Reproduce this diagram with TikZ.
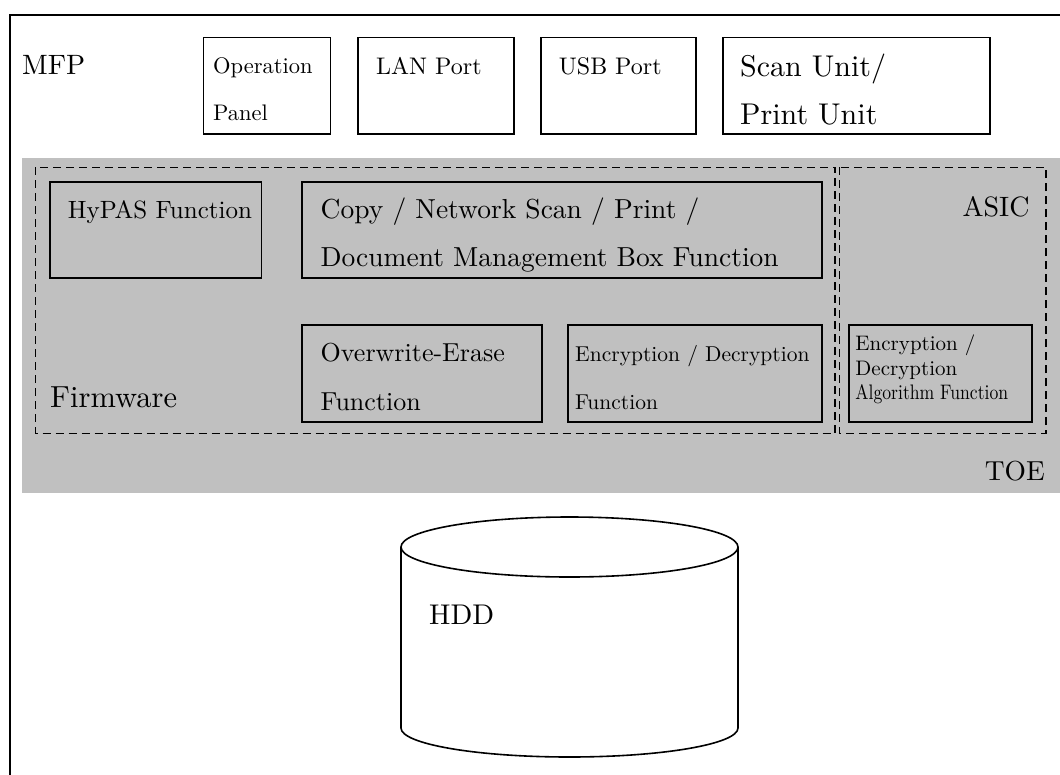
\documentclass[tikz,border=0pt]{standalone}
\usepackage{fontspec}
\setmainfont{lmroman10-regular.otf}
\usepackage{graphicx}
\definecolor{toegray}{RGB}{192,192,192}
\newcommand\fsz[1]{\fontsize{#1}{#1}\selectfont}
\begin{document}
\begin{tikzpicture}[x=1pt,y=-1pt,
  box/.style={draw=black,line width=1.6pt},
  dbox/.style={draw=black,line width=1.5pt,dash pattern=on 8pt off 5pt},
  lbl/.style={inner sep=0pt,anchor=base west},
  lblr/.style={inner sep=0pt,anchor=base east}]
\useasboundingbox (0,0) rectangle (1060,774);
\clip (0,0) rectangle (1060,774);
\fill[white] (0,0) rectangle (1060,774);
% outer MFP frame (cropped at right and bottom)
\draw[line width=2.2pt] (10,800) -- (10,15) -- (1080,15);
\node[lbl] (mfp) at (22,74) {\fsz{28}MFP};
% top row boxes
\draw[box] (203.5,37.3) rectangle (330.6,134);
\node[lbl] (op1) at (213,73.3) {\fsz{22.5}Operation};
\node[lbl] (op2) at (213,120.7) {\fsz{22.5}Panel};
\draw[box] (357.7,37.3) rectangle (513.9,134);
\node[lbl] (lan) at (376,74) {\fsz{24}LAN Port};
\draw[box] (540.8,37.3) rectangle (695.7,134);
\node[lbl] (usb) at (558.7,74) {\fsz{24}USB Port};
\draw[box] (722.7,37.3) rectangle (989.8,134);
\node[lbl] (scan1) at (740,76) {\fsz{30}Scan Unit/};
\node[lbl] (scan2) at (740,124) {\fsz{30}Print Unit};
% TOE band
\fill[toegray] (22,158) rectangle (1080,493);
\node[lblr] (toe) at (1045,480) {\fsz{27.5}TOE};
% Firmware and ASIC areas
\draw[dbox] (35.5,167.3) rectangle (835,433.3);
\draw[dbox] (839.3,167.3) rectangle (1046,433.3);
\node[lbl] (fw) at (50,407.3) {\fsz{30.5}Firmware};
\node[lblr] (asic) at (1029.7,216.7) {\fsz{28}ASIC};
% function boxes
\draw[box] (50,182) rectangle (261.3,278);
\node[lbl] (hypas) at (67.6,218.3) {\fsz{25}HyPAS Function};
\draw[box] (302,182) rectangle (821.8,278);
\node[lbl] (copy1) at (320.5,218.3) {\fsz{27.5}Copy / Network Scan / Print /};
\node[lbl] (copy2) at (320.5,266.7) {\fsz{27.5}Document Management Box Function};
\draw[box] (302,325) rectangle (541.8,421.7);
\node[lbl] (ow1) at (320.5,361.7) {\fsz{26}Overwrite-Erase};
\node[lbl] (ow2) at (320.5,410) {\fsz{26}Function};
\draw[box] (568.2,325) rectangle (821.8,421.7);
\node[lbl] (enc1) at (575,361) {\fsz{21.5}Encryption / Decryption};
\node[lbl] (enc2) at (575,409) {\fsz{21.5}Function};
\draw[box] (848.8,325) rectangle (1032,421.7);
\node[lbl] (alg1) at (855.2,350) {\fsz{21}Encryption /};
\node[lbl] (alg2) at (855.2,375) {\fsz{21}Decryption};
\node[lbl] (alg3) at (855.2,399.3) {\scalebox{0.84}[1]{\fsz{21}Algorithm Function}};
% HDD cylinder
\fill[white] (401,547) -- (401,728) arc[start angle=180,end angle=360,x radius=168.5pt,y radius=29pt] -- (738,547) -- cycle;
\draw[line width=1.6pt] (401,547) -- (401,728) arc[start angle=180,end angle=360,x radius=168.5pt,y radius=29pt] -- (738,547);
\draw[line width=1.6pt,fill=white] (569.5,547) ellipse[x radius=168.5pt,y radius=30pt];
\node[lbl] (hdd) at (429,624) {\fsz{28.5}HDD};
\end{tikzpicture}
\end{document}
